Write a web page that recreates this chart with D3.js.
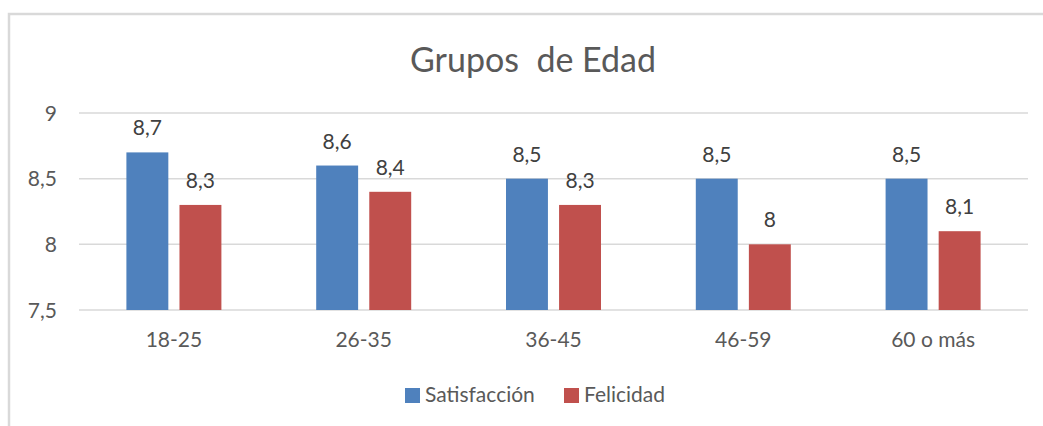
<!DOCTYPE html>
<html>
<head>
<meta charset="utf-8">
<script src="https://cdn.jsdelivr.net/npm/d3@7"></script>
<style>
  body { margin: 0; background: #fff; }
  text { font-family: Lato, "Open Sans", sans-serif; fill: #595959; }
</style>
</head>
<body>
<svg id="chart" width="1043" height="426"></svg>
<script>
"use strict";

// donnees
var grupos = ["18-25", "26-35", "36-45", "46-59", "60 o más"]
var satisfaccion = [8.7, 8.6, 8.5, 8.5, 8.5]
var felicidad = [8.3, 8.4, 8.3, 8.0, 8.1]
var series = ["Satisfacción", "Felicidad"]
var yTicks = [7.5, 8, 8.5, 9]

var colores = { "Satisfacción": "#4F81BD", "Felicidad": "#C0504D" }
var fmt = v => String(v).replace(".", ",")

var svg = d3.select("#chart")

// cadre du graphique (bords droit/bas hors de l'image)
svg.append("rect")
    .attr("x", 9).attr("y", 14)
    .attr("width", 1100).attr("height", 500)
    .attr("fill", "none")
    .attr("stroke", "#d9d9d9")
    .attr("stroke-width", 2.5)

svg.append("text")
    .attr("x", 533).attr("y", 72)
    .attr("text-anchor", "middle")
    .style("font-size", "34px")
    .style("white-space", "pre")
    .text("Grupos  de Edad")

var x0 = d3.scaleBand().domain(grupos).range([79, 1028])
var x1 = d3.scaleBand().domain(series).range([-47.5, 47.5]).paddingInner(0.21)
var y = d3.scaleLinear().domain([7.5, 9]).range([310, 113])

// lignes de grille
svg.append("g")
    .selectAll("line")
    .data(yTicks)
    .enter()
    .append("line")
      .attr("x1", 79).attr("x2", 1028)
      .attr("y1", d => y(d)).attr("y2", d => y(d))
      .attr("stroke", "#d9d9d9")
      .attr("stroke-width", 1.5)

svg.append("g")
    .selectAll("text")
    .data(yTicks)
    .enter()
    .append("text")
      .attr("x", 57)
      .attr("y", d => y(d))
      .attr("dy", "0.36em")
      .attr("text-anchor", "end")
      .style("font-size", "21px")
      .text(fmt)

var rows = grupos.map((g, i) => ({
    grupo: g,
    valores: [
        { serie: "Satisfacción", valor: satisfaccion[i] },
        { serie: "Felicidad", valor: felicidad[i] }
    ]
}))

var grp = svg.append("g")
    .selectAll("g")
    .data(rows)
    .enter()
    .append("g")
      .attr("transform", d => "translate(" + (x0(d.grupo) + x0.bandwidth() / 2) + ",0)")

grp.selectAll("rect")
    .data(d => d.valores)
    .enter()
    .append("rect")
      .attr("x", d => x1(d.serie))
      .attr("width", x1.bandwidth())
      .attr("y", d => y(d.valor))
      .attr("height", d => y(7.5) - y(d.valor))
      .attr("fill", d => colores[d.serie])

grp.selectAll("text")
    .data(d => d.valores)
    .enter()
    .append("text")
      .attr("x", d => x1(d.serie) + x1.bandwidth() / 2)
      .attr("y", d => y(d.valor) - 17)
      .attr("text-anchor", "middle")
      .style("font-size", "21px")
      .style("fill", "#404040")
      .text(d => fmt(d.valor))

// etiquettes des categories
svg.append("g")
    .selectAll("text")
    .data(grupos)
    .enter()
    .append("text")
      .attr("x", d => x0(d) + x0.bandwidth() / 2)
      .attr("y", 347)
      .attr("text-anchor", "middle")
      .style("font-size", "21px")
      .text(d => d)

// legende
var legendPos = [405, 564]
var legend = svg.append("g")
    .selectAll("g")
    .data(series)
    .enter()
    .append("g")
      .attr("transform", (d, i) => "translate(" + legendPos[i] + ",388)")

legend.append("rect")
    .attr("width", 15).attr("height", 15)
    .attr("fill", d => colores[d])

legend.append("text")
    .attr("x", 20).attr("y", 14)
    .style("font-size", "21px")
    .text(d => d)
</script>
</body>
</html>
